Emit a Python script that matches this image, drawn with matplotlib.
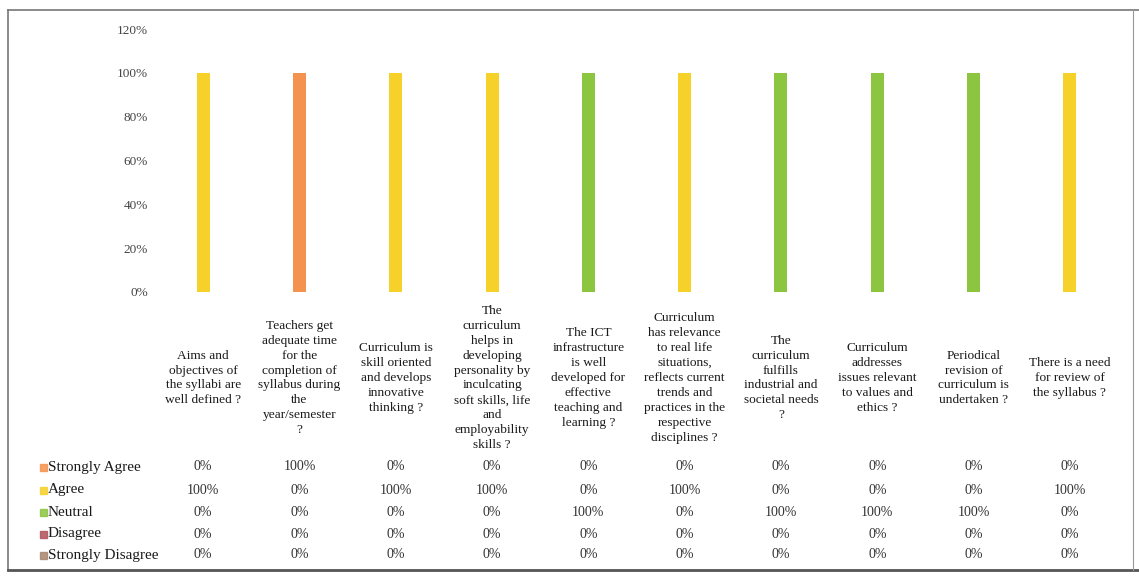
import matplotlib
matplotlib.use("Agg")
import matplotlib.pyplot as plt
from matplotlib.patches import Rectangle
from matplotlib.lines import Line2D
import matplotlib.transforms as mtransforms

categories = [
    "Aims and\nobjectives of\nthe syllabi are\nwell defined ?",
    "Teachers get\nadequate time\nfor the\ncompletion of\nsyllabus during\nthe\nyear/semester\n?",
    "Curriculum is\nskill oriented\nand develops\ninnovative\nthinking ?",
    "The\ncurriculum\nhelps in\ndeveloping\npersonality by\ninculcating\nsoft skills, life\nand\nemployability\nskills ?",
    "The ICT\ninfrastructure\nis well\ndeveloped for\neffective\nteaching and\nlearning ?",
    "Curriculum\nhas relevance\nto real life\nsituations,\nreflects current\ntrends and\npractices in the\nrespective\ndisciplines ?",
    "The\ncurriculum\nfulfills\nindustrial and\nsocietal needs\n?",
    "Curriculum\naddresses\nissues relevant\nto values and\nethics ?",
    "Periodical\nrevision of\ncurriculum is\nundertaken ?",
    "There is a need\nfor review of\nthe syllabus ?",
]

series_names = ["Strongly Agree", "Agree", "Neutral", "Disagree", "Strongly Disagree"]
strongly_agree    = [0, 100, 0, 0, 0, 0, 0, 0, 0, 0]
agree             = [100, 0, 100, 100, 0, 100, 0, 0, 0, 100]
neutral           = [0, 0, 0, 0, 100, 0, 100, 100, 100, 0]
disagree          = [0, 0, 0, 0, 0, 0, 0, 0, 0, 0]
strongly_disagree = [0, 0, 0, 0, 0, 0, 0, 0, 0, 0]
series_values = [strongly_agree, agree, neutral, disagree, strongly_disagree]
colors = ["#F4924F", "#F5D12A", "#8CC540", "#B0515B", "#A8866F"]

yticks = [0, 20, 40, 60, 80, 100, 120]

W, H = 1139, 577
fig = plt.figure(figsize=(W / 100, H / 100), dpi=100)
plt.rcParams['font.family'] = ['Liberation Serif', 'DejaVu Serif']

ax = fig.add_axes([155 / W, 1 - 292 / H, (1118 - 155) / W, (292 - 29) / H])
x = list(range(len(categories)))
bottom = [0] * len(categories)
for name, vals, c in zip(series_names, series_values, colors):
    ax.bar(x, vals, width=0.135, bottom=bottom, color=c, label=name)
    bottom = [b + v for b, v in zip(bottom, vals)]

ax.set_xlim(-0.5, len(categories) - 0.5)
ax.set_ylim(0, 120)
ax.set_yticks(yticks)
ax.set_yticklabels([f"{t}%" for t in yticks], fontsize=9.5, color="#444444")
ax.tick_params(axis='y', length=0, pad=5)
ax.set_xticks([])
for s in ax.spines.values():
    s.set_visible(False)

trans = mtransforms.blended_transform_factory(ax.transData, fig.transFigure)

# category labels
for i, lab in enumerate(categories):
    ax.text(i, 1 - 378 / H, lab, transform=trans, ha='center', va='center',
            fontsize=9.6, linespacing=1.32, color="#1a1a1a")

# data table
row_y = [467, 490, 512, 534, 555]
for r, (name, vals, c) in enumerate(zip(series_names, series_values, colors)):
    yf = 1 - row_y[r] / H
    fig.patches.append(Rectangle((40 / W, yf - 3.5 / H), 7 / W, 7 / H,
                                 transform=fig.transFigure, color=c, alpha=0.85))
    fig.text(48 / W, yf, name, ha='left', va='center', fontsize=11, color="#1a1a1a")
    for i, v in enumerate(vals):
        ax.text(i, yf, f"{v}%", transform=trans, ha='center', va='center',
                fontsize=10, color="#333333")

# outer border
fig.lines.append(Line2D([8 / W, 8 / W], [1 - 10 / H, 1 - 570 / H], transform=fig.transFigure,
                        color="#777777", lw=1.2))
fig.lines.append(Line2D([8 / W, 1], [1 - 10 / H, 1 - 10 / H], transform=fig.transFigure,
                        color="#777777", lw=1.2))
fig.lines.append(Line2D([8 / W, 1], [1 - 570 / H, 1 - 570 / H], transform=fig.transFigure,
                        color="#555555", lw=2))
fig.lines.append(Line2D([1133 / W, 1133 / W], [1 - 10 / H, 1 - 570 / H], transform=fig.transFigure,
                        color="#999999", lw=0.8))

fig.savefig("out.png", dpi=100)
